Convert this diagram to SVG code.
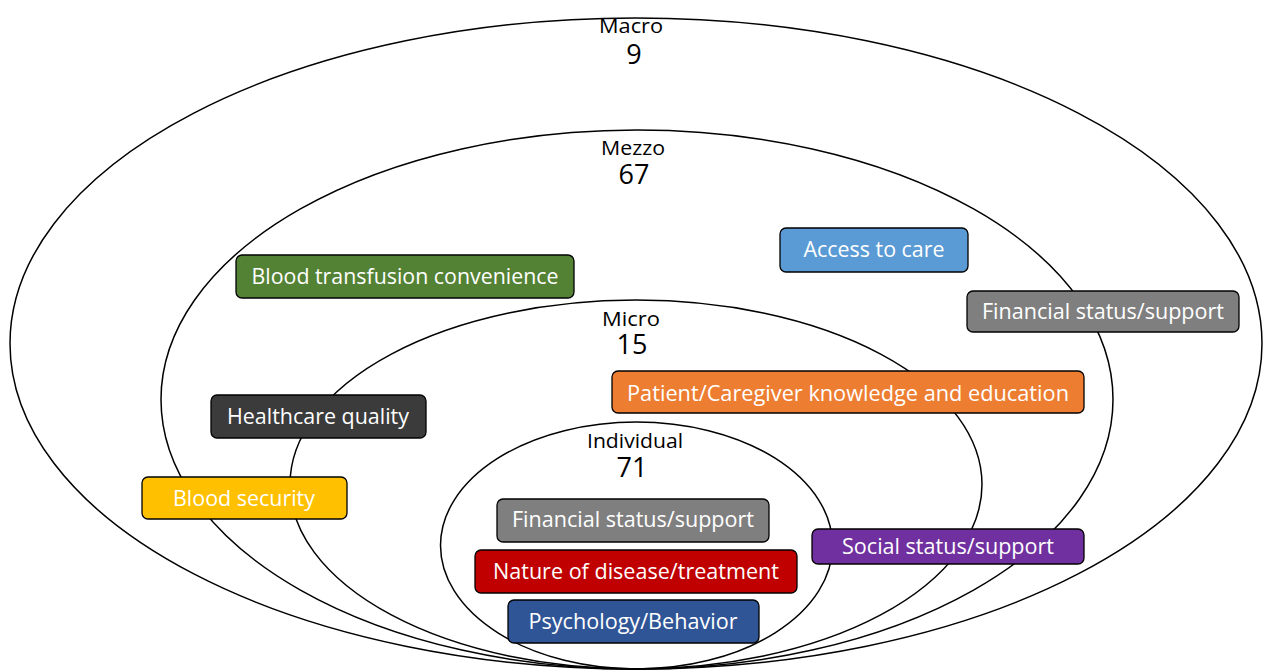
<svg xmlns="http://www.w3.org/2000/svg" width="1265" height="671" viewBox="0 0 1265 671">
  <style>
    .ring { fill: none; stroke: #000; stroke-width: 1.5; }
    .lvl { font-family: "Open Sans", "Liberation Sans", sans-serif; fill: #000; text-anchor: middle; }
    .lvl-name { font-size: 20px; }
    .lvl-num { font-size: 27px; }
    .box rect { stroke: #000; stroke-width: 1.3; }
    .box text { font-family: "Open Sans", "Liberation Sans", sans-serif; font-size: 21px; fill: #fff; text-anchor: middle; }
  </style>
  <rect width="1265" height="671" fill="#fff"/>

  <!-- nested levels, all touching at the bottom -->
  <g id="levels">
    <ellipse class="ring" cx="636" cy="343.5" rx="626" ry="325.5"/>
    <ellipse class="ring" cx="637" cy="399.5" rx="476" ry="269.5"/>
    <ellipse class="ring" cx="636" cy="484.5" rx="346" ry="184.5"/>
    <ellipse class="ring" cx="636.5" cy="545.5" rx="196" ry="123.5"/>
  </g>

  <g id="level-labels">
    <text class="lvl lvl-name" x="631" y="33" textLength="64" lengthAdjust="spacingAndGlyphs">Macro</text>
    <text class="lvl lvl-num" x="634" y="64">9</text>
    <text class="lvl lvl-name" x="633" y="155" textLength="64" lengthAdjust="spacingAndGlyphs">Mezzo</text>
    <text class="lvl lvl-num" x="634" y="184">67</text>
    <text class="lvl lvl-name" x="631" y="326" textLength="58" lengthAdjust="spacingAndGlyphs">Micro</text>
    <text class="lvl lvl-num" x="632" y="354">15</text>
    <text class="lvl lvl-name" x="635" y="448" textLength="96" lengthAdjust="spacingAndGlyphs">Individual</text>
    <text class="lvl lvl-num" x="632" y="477">71</text>
  </g>

  <g id="blood-transfusion-convenience" class="box">
    <rect x="236" y="255" width="338" height="43" rx="6" fill="#548235"/>
    <text x="405" y="284" textLength="307" lengthAdjust="spacingAndGlyphs">Blood transfusion convenience</text>
  </g>
  <g id="access-to-care" class="box">
    <rect x="780" y="228" width="188" height="44" rx="6" fill="#5B9BD5"/>
    <text x="874" y="257" textLength="141" lengthAdjust="spacingAndGlyphs">Access to care</text>
  </g>
  <g id="financial-mezzo" class="box">
    <rect x="967" y="291" width="272" height="41" rx="6" fill="#7F7F7F"/>
    <text x="1103" y="319" textLength="242" lengthAdjust="spacingAndGlyphs">Financial status/support</text>
  </g>
  <g id="patient-caregiver-knowledge" class="box">
    <rect x="612" y="371" width="472" height="42" rx="6" fill="#ED7D31"/>
    <text x="848" y="401" textLength="442" lengthAdjust="spacingAndGlyphs">Patient/Caregiver knowledge and education</text>
  </g>
  <g id="healthcare-quality" class="box">
    <rect x="211" y="395" width="215" height="43" rx="6" fill="#3B3B3B"/>
    <text x="318" y="424" textLength="182" lengthAdjust="spacingAndGlyphs">Healthcare quality</text>
  </g>
  <g id="blood-security" class="box">
    <rect x="142" y="477" width="205" height="42" rx="6" fill="#FFC000"/>
    <text x="244" y="506" textLength="142" lengthAdjust="spacingAndGlyphs">Blood security</text>
  </g>
  <g id="financial-individual" class="box">
    <rect x="497" y="499" width="272" height="43" rx="6" fill="#7F7F7F"/>
    <text x="633" y="527" textLength="242" lengthAdjust="spacingAndGlyphs">Financial status/support</text>
  </g>
  <g id="social-status" class="box">
    <rect x="812" y="529" width="272" height="35" rx="6" fill="#7030A0"/>
    <text x="948" y="554" textLength="212" lengthAdjust="spacingAndGlyphs">Social status/support</text>
  </g>
  <g id="nature-of-disease" class="box">
    <rect x="475" y="550" width="322" height="43" rx="6" fill="#C00000"/>
    <text x="636" y="579" textLength="286" lengthAdjust="spacingAndGlyphs">Nature of disease/treatment</text>
  </g>
  <g id="psychology-behavior" class="box">
    <rect x="508" y="600" width="251" height="43" rx="6" fill="#2F5597"/>
    <text x="633" y="629" textLength="209" lengthAdjust="spacingAndGlyphs">Psychology/Behavior</text>
  </g>

  <!-- no connectors in this figure -->
  <g id="connectors"/>
</svg>
